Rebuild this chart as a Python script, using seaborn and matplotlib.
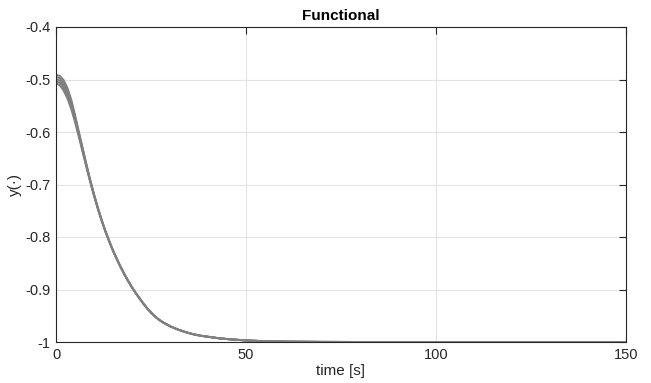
import matplotlib
matplotlib.use("Agg")
import matplotlib.pyplot as plt
import seaborn as sns
import pandas as pd

# early part of the time axis, where the runs differ
time_head = [0, 1, 2, 3, 4, 5, 6, 7, 8, 9, 10, 11, 12]
# later part, where all runs coincide
time_tail = [13, 14, 15, 16, 17, 18, 19, 20, 21, 22, 23, 24, 25, 26, 27, 28, 29, 30,
             32, 34, 36, 38, 40, 43, 46, 50, 55, 60, 70, 80, 150]

run_1_head = [-0.491, -0.493, -0.501, -0.516, -0.538, -0.567, -0.599, -0.630, -0.661, -0.691, -0.7185, -0.744, -0.767]
run_2_head = [-0.495, -0.4975, -0.506, -0.521, -0.5425, -0.5705, -0.6015, -0.632, -0.6625, -0.692, -0.719, -0.7445, -0.7675]
run_3_head = [-0.499, -0.502, -0.511, -0.526, -0.547, -0.574, -0.604, -0.634, -0.664, -0.693, -0.720, -0.745, -0.768]
run_4_head = [-0.503, -0.5065, -0.516, -0.531, -0.5515, -0.5775, -0.6065, -0.636, -0.6655, -0.694, -0.721, -0.7455, -0.7685]
run_5_head = [-0.507, -0.511, -0.521, -0.536, -0.556, -0.581, -0.609, -0.638, -0.667, -0.695, -0.7215, -0.746, -0.769]

shared_tail = [-0.789, -0.808, -0.826, -0.842, -0.857, -0.871, -0.884, -0.896, -0.907, -0.917,
               -0.927, -0.936, -0.944, -0.951, -0.957, -0.962, -0.966, -0.970,
               -0.976, -0.981, -0.985, -0.988, -0.990, -0.993, -0.995, -0.997,
               -0.9985, -0.9993, -0.9998, -1.0, -1.0]

heads = {"r1": run_1_head, "r2": run_2_head, "r3": run_3_head, "r4": run_4_head, "r5": run_5_head}

x_ticks = [0, 50, 100, 150]
x_tick_labels = ["0", "50", "100", "150"]
y_ticks = [-1.0, -0.9, -0.8, -0.7, -0.6, -0.5, -0.4]
y_tick_labels = ["-1", "-0.9", "-0.8", "-0.7", "-0.6", "-0.5", "-0.4"]

time_all = time_head + time_tail
rows = []
for name, head in heads.items():
    for t, v in zip(time_all, head + shared_tail):
        rows.append({"time": t, "y": v, "run": name})
df = pd.DataFrame(rows)

sns.set_theme(style="whitegrid")
plt.rcParams["font.family"] = ["Liberation Sans", "DejaVu Sans"]

fig = plt.figure(figsize=(6.51, 3.83), dpi=100)
ax = fig.add_axes([56 / 651, 1 - 342 / 383, (626 - 56) / 651, (342 - 27) / 383])

line_grey = "#808080"
sns.lineplot(data=df, x="time", y="y", hue="run", estimator=None,
             palette={k: line_grey for k in heads}, legend=False, linewidth=1.4, ax=ax)

ax.set_xlim(0, 150)
ax.set_ylim(-1, -0.4)
ax.set_xticks(x_ticks)
ax.set_xticklabels(x_tick_labels)
ax.set_yticks(y_ticks)
ax.set_yticklabels(y_tick_labels)

ax.grid(True, color="#e3e3e3", linewidth=0.8)
ax.set_facecolor("white")
for s in ax.spines.values():
    s.set_visible(True)
    s.set_color("#262626")
    s.set_linewidth(0.8)
ax.tick_params(direction="in", length=5, width=0.8, color="#262626",
               top=True, right=True, labelsize=10.5, labelcolor="#262626", pad=4)

ax.set_title("Functional", fontsize=11, fontweight="bold", color="black", pad=5)
ax.set_xlabel("time [s]", fontsize=11, color="#262626", labelpad=2)
ax.set_ylabel("y(·)", fontsize=11, color="#262626", labelpad=2)

fig.savefig("out.png", dpi=100)
